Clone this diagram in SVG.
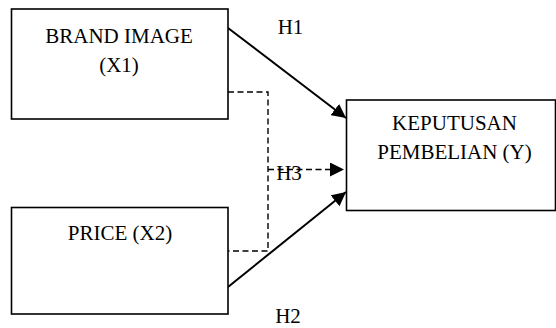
<svg xmlns="http://www.w3.org/2000/svg" width="556" height="328" viewBox="0 0 556 328">
<style>
.box{fill:#fff;stroke:#000;stroke-width:1.6}
.t{font-family:"Liberation Serif","Times New Roman",serif;font-size:21px;fill:#000;text-anchor:middle}
.solid{fill:none;stroke:#000;stroke-width:2}
.dash{fill:none;stroke:#000;stroke-width:1.4;stroke-dasharray:6 3.5}
</style>
<defs>
<marker id="ah" markerUnits="userSpaceOnUse" markerWidth="16" markerHeight="14" refX="14" refY="7" orient="auto">
<path d="M0,0 L14,7 L0,14 Z" fill="#000"/>
</marker>
</defs>
<rect width="556" height="328" fill="#fff"/>
<g id="connectors">
<path class="dash" d="M228,92 H268 V251 H228"/>
<line class="dash" x1="268" y1="169.5" x2="344" y2="169.5" marker-end="url(#ah)"/>
<line class="solid" x1="228" y1="28" x2="346" y2="118" marker-end="url(#ah)"/>
<line class="solid" x1="228" y1="287" x2="346" y2="192" marker-end="url(#ah)"/>
</g>
<g id="x1">
<rect class="box" x="11.5" y="9" width="216.5" height="110"/>
<text class="t" x="119" y="43">BRAND IMAGE</text>
<text class="t" x="119" y="72">(X1)</text>
</g>
<g id="x2">
<rect class="box" x="11.5" y="207.5" width="216.5" height="106.5"/>
<text class="t" x="120" y="240">PRICE (X2)</text>
</g>
<g id="y">
<rect class="box" x="346.5" y="100" width="209" height="110.5"/>
<text class="t" x="454.5" y="130">KEPUTUSAN</text>
<text class="t" x="454.5" y="159">PEMBELIAN (Y)</text>
</g>
<g id="labels">
<text class="t" x="290.5" y="34">H1</text>
<text class="t" x="288" y="323">H2</text>
<text class="t" x="289" y="180">H3</text>
</g>
</svg>
